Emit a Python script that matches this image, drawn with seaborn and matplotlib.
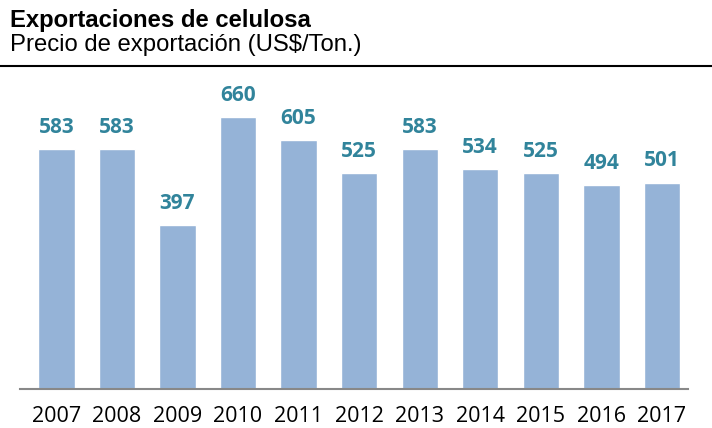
import matplotlib
matplotlib.use("Agg")
import matplotlib.pyplot as plt
import seaborn as sns
import pandas as pd

# Data
years = ["2007", "2008", "2009", "2010", "2011", "2012",
         "2013", "2014", "2015", "2016", "2017"]
prices = [583, 583, 397, 660, 605, 525, 583, 534, 525, 494, 501]

title = "Exportaciones de celulosa"
subtitle = "Precio de exportación (US$/Ton.)"

bar_color = "#95B3D7"
label_color = "#31849B"

sns.set_theme(style="white")
plt.rcParams["font.family"] = ["Liberation Sans", "DejaVu Sans"]

df = pd.DataFrame({"year": years, "price": prices})

fig = plt.figure(figsize=(7.12, 4.28), dpi=100)
ax = fig.add_axes([20 / 712, 1 - 389 / 428, 668 / 712, 309 / 428])

sns.barplot(data=df, x="year", y="price", color=bar_color, width=0.6,
            saturation=1, ax=ax)

for i, v in enumerate(prices):
    ax.text(i, v + 27, str(v), ha="center", va="bottom", color=label_color,
            fontsize=15, fontweight="bold", family=["Open Sans", "DejaVu Sans"])

ax.set_ylim(0, 750)
ax.set_xlim(-0.6, 10.43)
ax.set_yticks([])
ax.set_xlabel("")
ax.set_ylabel("")
for s in ["top", "right", "left"]:
    ax.spines[s].set_visible(False)
ax.spines["bottom"].set_color("#888888")
ax.spines["bottom"].set_linewidth(1.5)
ax.tick_params(axis="x", length=0, pad=12, labelsize=15.5)
for lbl in ax.get_xticklabels():
    lbl.set_family(["Open Sans", "DejaVu Sans"])
    lbl.set_color("black")

fig.text(10 / 712, 1 - 20 / 428, title, fontsize=17.2, fontweight="bold",
         va="center", ha="left", color="black")
fig.text(10 / 712, 1 - 45 / 428, subtitle, fontsize=17.2, va="center",
         ha="left", color="black")
fig.add_artist(plt.Line2D([0, 1], [1 - 66 / 428, 1 - 66 / 428],
                          color="black", linewidth=1.5,
                          transform=fig.transFigure))

fig.savefig("out.png", dpi=100)
